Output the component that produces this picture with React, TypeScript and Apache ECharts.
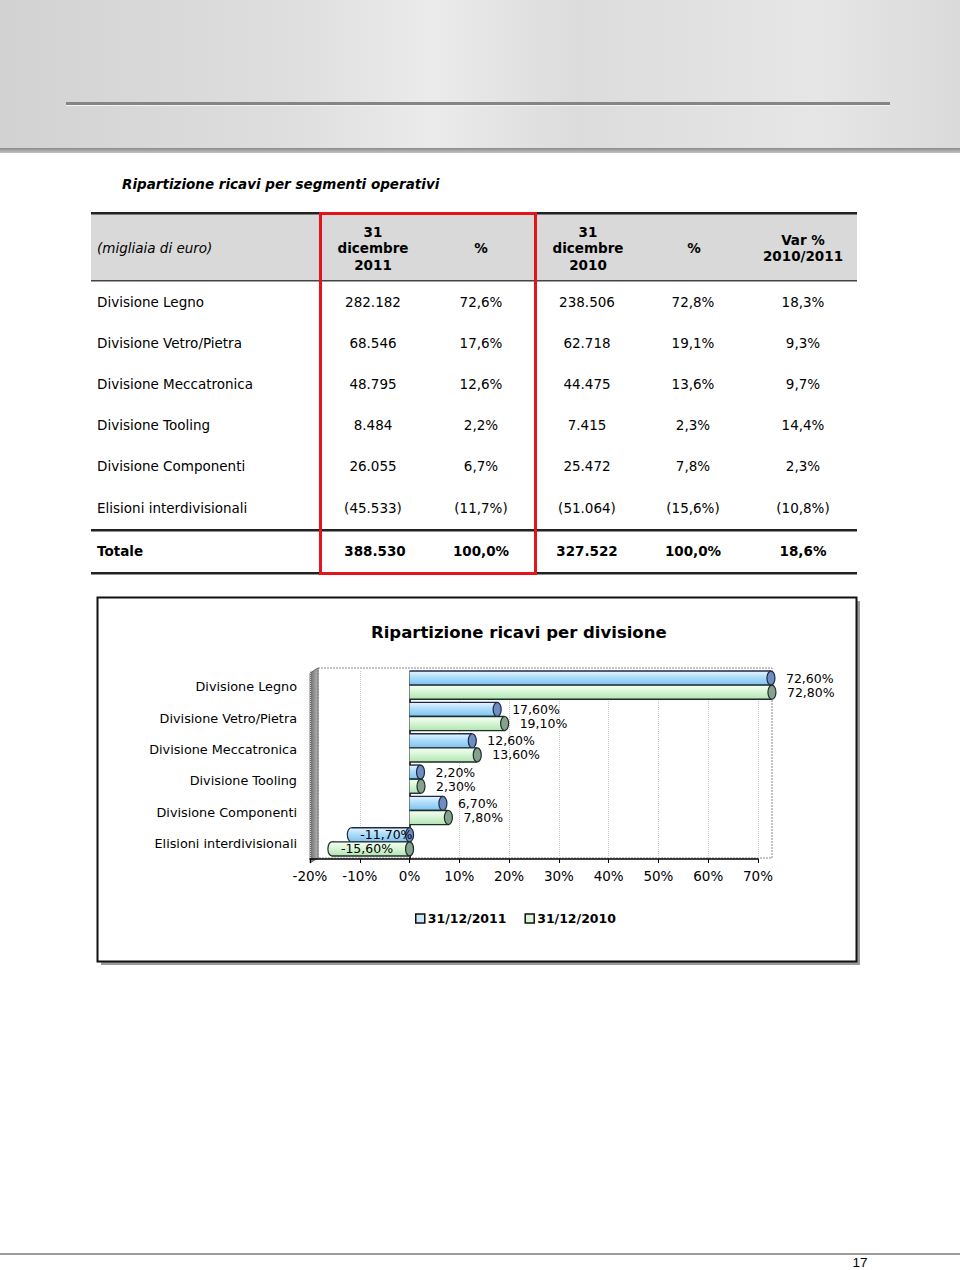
import React, { useEffect, useRef } from 'react';
import * as echarts from 'echarts';

// ---------- table data ----------
const tableTitle = 'Ripartizione ricavi per segmenti operativi';
const unitLabel = '(migliaia di euro)';
const headerCol1 = ['31', 'dicembre', '2011'];
const headerCol2 = ['%'];
const headerCol3 = ['31', 'dicembre', '2010'];
const headerCol4 = ['%'];
const headerCol5 = ['Var %', '2010/2011'];
const rowLabels = ['Divisione Legno', 'Divisione Vetro/Pietra', 'Divisione Meccatronica', 'Divisione Tooling', 'Divisione Componenti', 'Elisioni interdivisionali'];
const revenue2011 = ['282.182', '68.546', '48.795', '8.484', '26.055', '(45.533)'];
const share2011 = ['72,6%', '17,6%', '12,6%', '2,2%', '6,7%', '(11,7%)'];
const revenue2010 = ['238.506', '62.718', '44.475', '7.415', '25.472', '(51.064)'];
const share2010 = ['72,8%', '19,1%', '13,6%', '2,3%', '7,8%', '(15,6%)'];
const variation = ['18,3%', '9,3%', '9,7%', '14,4%', '2,3%', '(10,8%)'];
const totalRow = ['Totale', '388.530', '100,0%', '327.522', '100,0%', '18,6%'];

// ---------- chart data ----------
const chartTitle = 'Ripartizione ricavi per divisione';
const categories = ['Divisione Legno', 'Divisione Vetro/Pietra', 'Divisione Meccatronica', 'Divisione Tooling', 'Divisione Componenti', 'Elisioni interdivisionali'];
const seriesNames = ['31/12/2011', '31/12/2010'];
const pct2011 = [72.6, 17.6, 12.6, 2.2, 6.7, -11.7];
const pct2010 = [72.8, 19.1, 13.6, 2.3, 7.8, -15.6];
const pageNumber = '17';

const FONT = '"DejaVu Sans", Verdana, sans-serif';

const palettes = [
  {
    stops: [
      { offset: 0, color: '#e6f5fe' },
      { offset: 0.4, color: '#b2dffb' },
      { offset: 1, color: '#7cc2ee' },
    ],
    cap: '#6f8dc0',
    stroke: '#1c2a46',
    legend: '#c8e6fa',
  },
  {
    stops: [
      { offset: 0, color: '#f6fff6' },
      { offset: 0.4, color: '#dcf7da' },
      { offset: 1, color: '#b2e4b2' },
    ],
    cap: '#86a28e',
    stroke: '#1e2c2a',
    legend: '#d8f5d6',
  },
];

function fmtPct(v: number) {
  return v.toFixed(2).replace('.', ',') + '%';
}

function makeRender(si: number) {
  return (params: any, api: any) => {
    const v = api.value(0) as number;
    const c = api.value(1) as number;
    const p0 = api.coord([0, c]);
    const p1 = api.coord([v, c]);
    const band = (api.size([0, 1]) as number[])[1];
    const h = band * 0.45;
    const cy = p0[1] - 1.5;
    const top = si === 0 ? cy - h : cy;
    const mid = top + h / 2;
    const xl = Math.min(p0[0], p1[0]);
    const xr = Math.max(p0[0], p1[0]);
    const rx = 4;
    const pal = palettes[si];
    const grad = { type: 'linear', x: 0, y: 0, x2: 0, y2: 1, colorStops: pal.stops };
    const labelX = v >= 0 ? xr + 15 : xl + 9;
    const children: any[] = [];
    if (v < 0) {
      children.push({ type: 'ellipse', shape: { cx: xl, cy: mid, rx, ry: h / 2 }, style: { fill: grad, stroke: pal.stroke, lineWidth: 1.2 } });
    }
    children.push(
      { type: 'rect', shape: { x: xl, y: top, width: xr - xl, height: h }, style: { fill: grad } },
      { type: 'line', shape: { x1: xl, y1: top, x2: xr, y2: top }, style: { stroke: pal.stroke, lineWidth: 1.4 } },
      { type: 'line', shape: { x1: xl, y1: top + h, x2: xr, y2: top + h }, style: { stroke: pal.stroke, lineWidth: 1.4 } },
      { type: 'ellipse', shape: { cx: xr, cy: mid, rx, ry: h / 2 }, style: { fill: pal.cap, stroke: pal.stroke, lineWidth: 1.2 } },
      {
        type: 'text',
        x: labelX,
        y: mid,
        style: { text: fmtPct(v), fill: '#000', fontSize: 12.5, fontFamily: FONT, align: 'left', verticalAlign: 'middle' },
      }
    );
    return { type: 'group', children };
  };
}

function txt(x: number, y: number, text: string, opts: any = {}) {
  return {
    type: 'text',
    x,
    y,
    silent: true,
    style: {
      text,
      fill: '#000',
      fontSize: 13.5,
      fontFamily: FONT,
      align: 'center',
      verticalAlign: 'middle',
      ...opts,
    },
  };
}

function buildGraphics() {
  const els: any[] = [];
  // header background
  els.push({
    type: 'rect',
    shape: { x: 0, y: 0, width: 960, height: 149 },
    style: {
      fill: {
        type: 'linear', x: 0, y: 0, x2: 1, y2: 0,
        colorStops: [
          { offset: 0, color: '#d2d2d2' },
          { offset: 0.3, color: '#dedede' },
          { offset: 0.45, color: '#ebebeb' },
          { offset: 0.6, color: '#dcdcdc' },
          { offset: 0.85, color: '#e6e6e6' },
          { offset: 1, color: '#dadada' },
        ],
      },
    },
    z: -20,
  });
  els.push({ type: 'rect', shape: { x: 0, y: 148, width: 960, height: 5 }, style: { fill: { type: 'linear', x: 0, y: 0, x2: 0, y2: 1, colorStops: [{ offset: 0, color: '#8a8a8a' }, { offset: 1, color: '#c4c4c4' }] } } });
  els.push({ type: 'rect', shape: { x: 66, y: 102, width: 824, height: 3 }, style: { fill: '#858585' } });
  els.push({ type: 'rect', shape: { x: 66, y: 105, width: 824, height: 1 }, style: { fill: '#f4f4f4' } });

  // table title
  els.push(txt(122, 184, tableTitle, { align: 'left', fontWeight: 'bold', fontStyle: 'italic', fontSize: 13.5 }));

  // table header
  els.push({ type: 'rect', shape: { x: 91, y: 214, width: 766, height: 67 }, style: { fill: '#d9d9d9' } });
  els.push({ type: 'rect', shape: { x: 91, y: 212, width: 766, height: 2.5 }, style: { fill: '#222' } });
  els.push({ type: 'rect', shape: { x: 91, y: 280, width: 766, height: 1.5 }, style: { fill: '#444' } });
  els.push(txt(97, 248, unitLabel, { align: 'left', fontStyle: 'italic' }));
  const hdrCols: [number, string[]][] = [
    [373, headerCol1], [481, headerCol2], [588, headerCol3], [694, headerCol4], [803, headerCol5],
  ];
  hdrCols.forEach(([cx, lines]) => {
    const n = lines.length;
    const step = 16.5;
    const y0 = 248 - ((n - 1) * step) / 2;
    lines.forEach((l, i) => els.push(txt(cx, y0 + i * step, l, { fontWeight: 'bold' })));
  });

  // rows
  const rowY = [302, 343, 384, 425, 466, 508];
  const colX = [373, 481, 587, 693, 803];
  rowLabels.forEach((lab, i) => {
    const y = rowY[i];
    els.push(txt(97, y, lab, { align: 'left' }));
    [revenue2011[i], share2011[i], revenue2010[i], share2010[i], variation[i]].forEach((val, j) => {
      els.push(txt(colX[j], y, val));
    });
  });
  els.push({ type: 'rect', shape: { x: 91, y: 529, width: 766, height: 2.5 }, style: { fill: '#222' } });
  els.push(txt(97, 551, totalRow[0], { align: 'left', fontWeight: 'bold' }));
  totalRow.slice(1).forEach((val, j) => els.push(txt(colX[j] + (j === 0 ? 2 : 0), 551, val, { fontWeight: 'bold' })));
  els.push({ type: 'rect', shape: { x: 91, y: 572, width: 766, height: 2.5 }, style: { fill: '#222' } });

  // red highlight box
  els.push({ type: 'rect', shape: { x: 320.5, y: 213.5, width: 215, height: 360 }, style: { fill: 'none', stroke: '#e3141b', lineWidth: 3 } });

  // chart frame with shadow
  els.push({ type: 'rect', shape: { x: 101, y: 601, width: 759, height: 364 }, style: { fill: '#9a9a9a' } });
  els.push({ type: 'rect', shape: { x: 97.5, y: 597.5, width: 759, height: 364 }, style: { fill: '#fff', stroke: '#111', lineWidth: 2 } });

  // 3D walls of plot
  els.push({ type: 'rect', shape: { x: 318, y: 668, width: 454, height: 190 }, style: { fill: 'none', stroke: '#888', lineWidth: 1, lineDash: [2, 1] } });
  els.push({
    type: 'polygon',
    shape: { points: [[310, 673], [318, 668], [318, 858], [310, 863]] },
    style: { fill: { type: 'linear', x: 0, y: 0, x2: 1, y2: 0, colorStops: [{ offset: 0, color: '#6a6a6a' }, { offset: 1, color: '#b5b5b5' }] }, stroke: '#555', lineWidth: 0.8 },
  });

  // footer
  els.push({ type: 'rect', shape: { x: 0, y: 1253, width: 960, height: 2 }, style: { fill: '#9c9c9c' } });
  els.push(txt(860, 1262, pageNumber, { fontFamily: '"Liberation Sans", Arial, sans-serif', fontSize: 13.5 }));
  return els;
}

export default function App() {
  const ref = useRef<HTMLDivElement>(null);
  useEffect(() => {
    if (!ref.current) return;
    const chart = echarts.init(ref.current, undefined, { renderer: 'svg' });
    const option: any = {
      animation: false,
      backgroundColor: '#fff',
      graphic: { elements: buildGraphics() },
      title: {
        text: chartTitle,
        left: 366,
        top: 619,
        textStyle: { fontFamily: FONT, fontSize: 16.5, fontWeight: 'bold', color: '#000' },
      },
      legend: {
        left: 410,
        top: 907,
        itemWidth: 9,
        itemHeight: 9,
        itemGap: 18,
        icon: 'rect',
        textStyle: { fontFamily: FONT, fontSize: 12.5, fontWeight: 'bold', color: '#000', padding: [0, 0, 0, -2] },
        data: seriesNames.map((n, i) => ({ name: n, itemStyle: { color: palettes[i].legend, borderColor: '#111', borderWidth: 1.5 } })),
      },
      grid: { left: 310, width: 448, top: 671, height: 188 },
      xAxis: {
        type: 'value',
        min: -20,
        max: 70,
        interval: 10,
        axisLine: { show: true, lineStyle: { color: '#000', width: 1.5 } },
        axisTick: { show: true, length: 4, lineStyle: { color: '#000' } },
        axisLabel: { formatter: (v: number) => `${v}%`, fontFamily: FONT, fontSize: 13.5, color: '#000', margin: 10 },
        splitLine: { show: true, lineStyle: { color: '#c8c8c8', type: 'dotted', width: 1 } },
      },
      yAxis: {
        type: 'category',
        inverse: true,
        data: categories,
        axisLine: { show: false },
        axisTick: { show: false },
        axisLabel: { fontFamily: FONT, fontSize: 12.8, color: '#000', margin: 13 },
      },
      series: [pct2011, pct2010].map((vals, si) => ({
        type: 'custom',
        name: seriesNames[si],
        itemStyle: { color: palettes[si].legend },
        encode: { x: 0, y: 1 },
        clip: false,
        data: vals.map((v, i) => [v, i]),
        renderItem: makeRender(si),
        z: 5,
        ...(si === 0
          ? {
              markLine: {
                silent: true,
                symbol: 'none',
                label: { show: false },
                lineStyle: { color: '#000', type: 'solid', width: 1.5 },
                data: [{ xAxis: 0 }],
              },
            }
          : {}),
      })),
    };
    chart.setOption(option);
    return () => chart.dispose();
  }, []);
  return <div ref={ref} style={{ position: 'absolute', left: 0, top: 0, width: 960, height: 1270 }} />;
}
